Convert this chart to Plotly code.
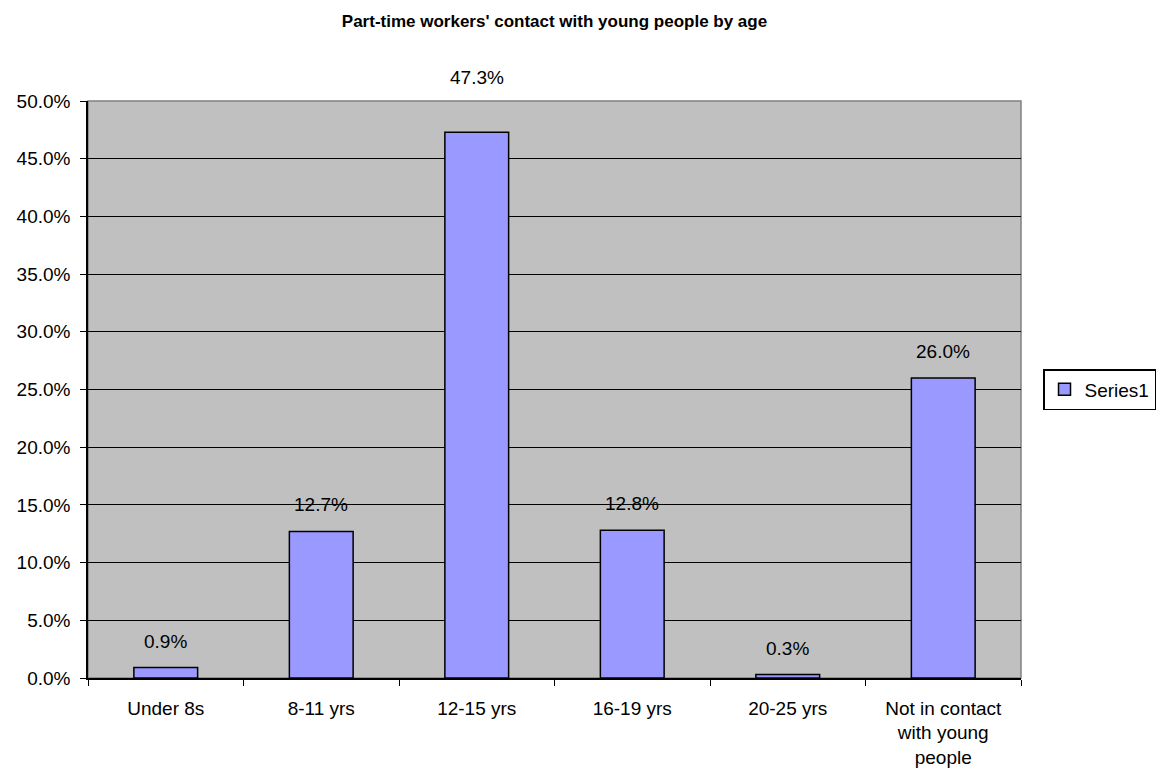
import plotly.graph_objects as go

categories = ["Under 8s", "8-11 yrs", "12-15 yrs", "16-19 yrs", "20-25 yrs",
              "Not in contact<br>with young<br>people"]
values = [0.009, 0.127, 0.473, 0.128, 0.003, 0.260]
labels = ["0.9%", "12.7%", "47.3%", "12.8%", "0.3%", "26.0%"]
tick_vals = [0, 0.05, 0.10, 0.15, 0.20, 0.25, 0.30, 0.35, 0.40, 0.45, 0.50]

FONT = "Liberation Sans, Arial"
Y_MAX = 0.5

fig = go.Figure()
fig.add_trace(go.Bar(
    x=categories, y=values, name="Series1",
    marker=dict(color="#9999FF", line=dict(color="black", width=1.5)),
    width=0.41,
))
for c, v, t in zip(categories, values, labels):
    # labels that would touch the top border are pushed above the plot area
    shift = 14 if v < Y_MAX - 0.04 else 42
    fig.add_annotation(x=c, y=v, text=t, showarrow=False, yanchor="bottom",
                       yshift=shift, font=dict(family=FONT, size=19, color="black"))

fig.update_layout(
    width=1159, height=781,
    margin=dict(l=88, r=138, t=101, b=103, autoexpand=False),
    paper_bgcolor="white", plot_bgcolor="#C0C0C0",
    font=dict(family=FONT, size=19, color="black"),
    title=dict(text="<b>Part-time workers' contact with young people by age</b>",
               x=0.5, xref="paper", y=0.973, yanchor="middle",
               font=dict(size=17, family=FONT)),
    showlegend=True,
    legend=dict(x=1.0236, xanchor="left", y=0.5, yanchor="middle",
                bordercolor="black", borderwidth=1.5, bgcolor="white",
                font=dict(size=19), itemwidth=30),
    shapes=[dict(type="rect", xref="paper", yref="paper", x0=0, x1=1, y0=0, y1=1,
                 line=dict(color="#808080", width=1.5), layer="below")],
)
fig.update_xaxes(
    type="category", tickson="boundaries", ticks="outside", ticklen=6,
    tickcolor="black", showline=True, linecolor="black", linewidth=1.5,
    showgrid=False, tickfont=dict(size=19), ticklabelstandoff=12,
)
fig.update_yaxes(
    range=[0, Y_MAX], tickvals=tick_vals, tickformat=".1%",
    ticks="outside", ticklen=6, tickcolor="black",
    showline=True, linecolor="black", linewidth=1.5,
    showgrid=True, gridcolor="black", gridwidth=1,
    zeroline=False, tickfont=dict(size=19), ticklabelstandoff=6,
)

fig.write_html("out.html")
